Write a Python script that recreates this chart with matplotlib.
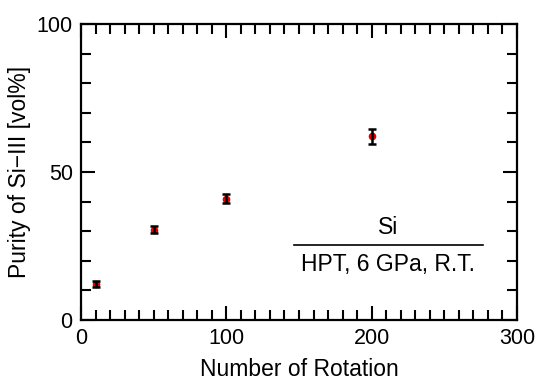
import numpy as np
import matplotlib
matplotlib.use('Agg')
from matplotlib import pyplot as plt
import matplotlib.ticker as ticker

rotations = [10, 50, 100, 200]
purity = [12.0, 30.5, 41.0, 62.0]
purity_err = [1.0, 1.2, 1.6, 2.6]

plt.rcParams['font.family'] = ['Liberation Sans', 'DejaVu Sans']

fig = plt.figure(figsize=(5.38, 3.8), dpi=100)
ax = fig.add_axes([0.1506, 0.158, 0.8104, 0.779])

# red dots below, black error bars on top of them
ax.plot(rotations, purity, 'o', color='#e00000', markersize=5.5,
        markeredgewidth=0, zorder=3)
ax.errorbar(rotations, purity, yerr=purity_err, fmt='none', ecolor='black',
            elinewidth=1.8, capsize=3, capthick=1.8, zorder=4)

ax.set_xlim(0, 300)
ax.set_ylim(0, 100)
ax.xaxis.set_major_locator(ticker.MultipleLocator(100))
ax.xaxis.set_minor_locator(ticker.MultipleLocator(10))
ax.yaxis.set_major_locator(ticker.MultipleLocator(50))
ax.yaxis.set_minor_locator(ticker.MultipleLocator(10))
ax.tick_params(which='both', direction='in', top=True, right=True, width=1.5)
ax.tick_params(which='major', length=10, labelsize=15.5, pad=6)
ax.tick_params(which='minor', length=7)
for s in ax.spines.values():
    s.set_linewidth(1.6)

ax.set_xlabel("Number of Rotation", fontsize=16.5, labelpad=6)
ax.set_ylabel("Purity of Si\u2212III [vol%]", fontsize=16.5, labelpad=4)

ax.text(0.705, 0.314, "Si", transform=ax.transAxes, ha='center', va='center', fontsize=16.5)
ax.plot([0.489, 0.922], [0.253, 0.253], transform=ax.transAxes, color='black', lw=1.2)
ax.text(0.705, 0.186, "HPT, 6 GPa, R.T.", transform=ax.transAxes, ha='center', va='center', fontsize=16.5)

fig.savefig("out.png", dpi=100)
